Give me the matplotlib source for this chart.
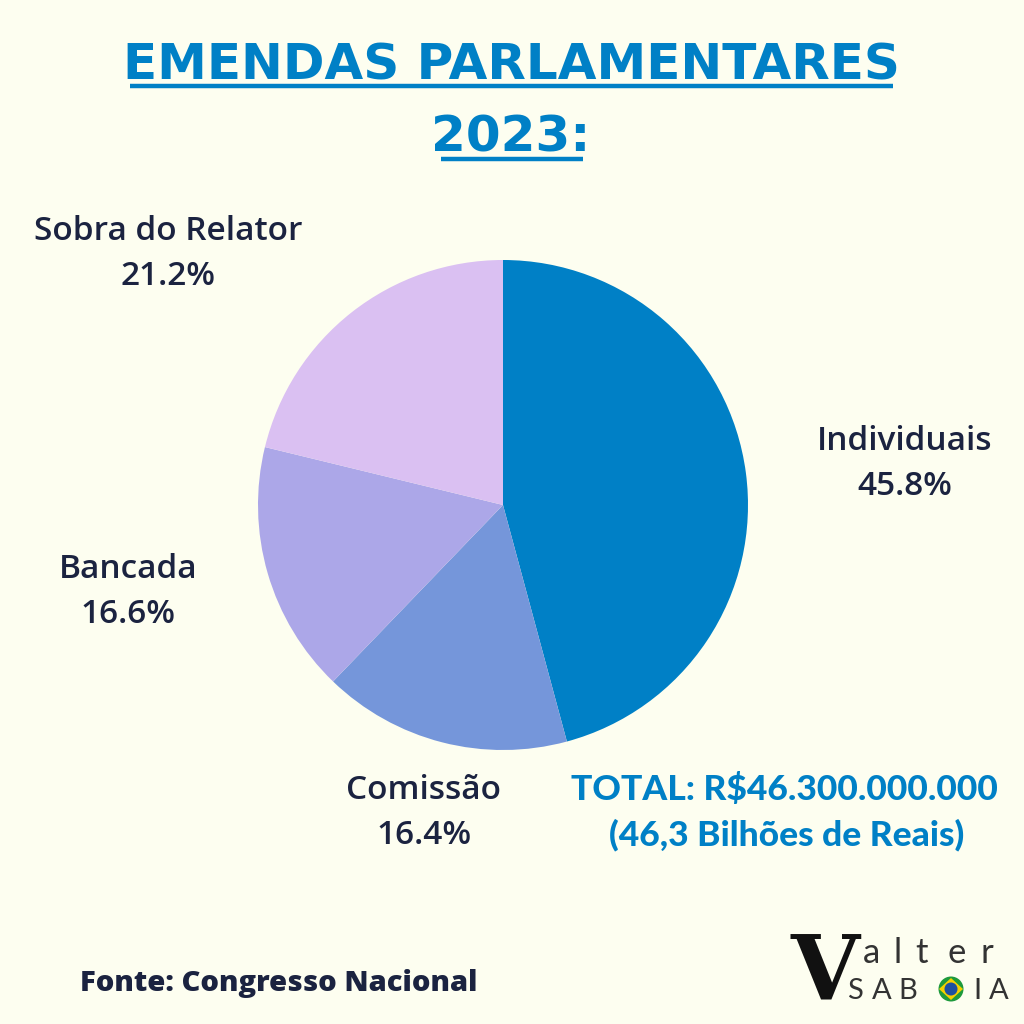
import matplotlib
matplotlib.use("Agg")
import matplotlib.pyplot as plt
from matplotlib.lines import Line2D
from matplotlib.patches import Circle, Polygon

categories = ["Individuais", "Comissão", "Bancada", "Sobra do Relator"]
shares = [45.8, 16.4, 16.6, 21.2]
colors = ["#0080C6", "#7596DA", "#ACA7E8", "#DAC0F2"]

BG = "#FDFEF0"
NAVY = "#1B2340"
BLUE = "#0080C6"
GREY = "#333333"

W = H = 1024
fig = plt.figure(figsize=(10.24, 10.24), dpi=100, facecolor=BG)

def fx(px):
    return px / W

def fy(py):
    return 1 - py / H

# Pie axes: center (503,505), radius 245 px
cx, cy, r = 503, 505, 245
ax = fig.add_axes([fx(cx - r), fy(cy + r), 2 * r / W, 2 * r / H])
ax.set_facecolor(BG)
ax.pie(shares, colors=colors, startangle=90, counterclock=False,
       wedgeprops=dict(linewidth=0), radius=1.0)
ax.set_xlim(-1, 1)
ax.set_ylim(-1, 1)
ax.set_aspect("equal")
ax.axis("off")

# Category labels (layout positions in pixels)
label_pos = {
    "Individuais": (905, 464),
    "Comissão": (424, 813),
    "Bancada": (128, 592),
    "Sobra do Relator": (168, 254),
}
for cat, val in zip(categories, shares):
    px, py = label_pos[cat]
    fig.text(fx(px), fy(py), f"{cat}\n{val:.1f}%", ha="center", va="center",
             fontsize=24, color=NAVY, family="Open Sans", fontweight="semibold",
             linespacing=1.45)

# Title
title_font = dict(family="DejaVu Sans", fontweight="bold", color=BLUE,
                  fontsize=36, ha="center", va="baseline")
fig.text(fx(511), fy(80), "EMENDAS PARLAMENTARES", **title_font)
fig.text(fx(511), fy(152), "2023:", **title_font)
fig.add_artist(Line2D([fx(130), fx(893)], [fy(85.5), fy(85.5)], color=BLUE,
                      linewidth=3.2, transform=fig.transFigure,
                      solid_capstyle="butt"))
fig.add_artist(Line2D([fx(441), fx(583)], [fy(159), fy(159)], color=BLUE,
                      linewidth=3.2, transform=fig.transFigure,
                      solid_capstyle="butt"))

# Total
fig.text(fx(784), fy(789), "TOTAL: R$46.300.000.000", ha="center", va="center",
         fontsize=25.5, color=BLUE, family="Lato", fontweight="black")
fig.text(fx(787), fy(835), "(46,3 Bilhões de Reais)", ha="center", va="center",
         fontsize=25.5, color=BLUE, family="Lato", fontweight="black")

# Source
fig.text(fx(80), fy(983), "Fonte: Congresso Nacional", ha="left", va="center",
         fontsize=21, color=NAVY, family="Open Sans", fontweight="heavy")

# Logo
fig.text(fx(791), fy(1000), "V", ha="left", va="baseline", fontsize=64,
         color="#111111", family="DejaVu Serif", fontweight="bold")
for ch, xc in zip("alter", [872, 898, 922, 957, 987]):
    fig.text(fx(xc), fy(963), ch, ha="center", va="baseline", fontsize=25,
             color=GREY, family="Lato")
for ch, xc in zip(["S", "A", "B", "I", "A"], [855, 882, 908, 977, 999]):
    fig.text(fx(xc), fy(999), ch, ha="center", va="baseline", fontsize=21,
             color=GREY, family="Lato")
# flag circle in place of O
fcx, fcy = 951, 989
fig.add_artist(Circle((fx(fcx), fy(fcy)), fx(12.5), transform=fig.transFigure,
                      facecolor="#1E9A3C", edgecolor="none"))
fig.add_artist(Polygon([(fx(fcx - 12), fy(fcy)), (fx(fcx), fy(fcy - 11)),
                        (fx(fcx + 12), fy(fcy)), (fx(fcx), fy(fcy + 11))],
                       closed=True, transform=fig.transFigure,
                       facecolor="#F4D000", edgecolor="none"))
fig.add_artist(Circle((fx(fcx), fy(fcy)), fx(6.5), transform=fig.transFigure,
                      facecolor="#1D4FA0", edgecolor="none"))

fig.savefig("out.png", dpi=100, facecolor=BG)
